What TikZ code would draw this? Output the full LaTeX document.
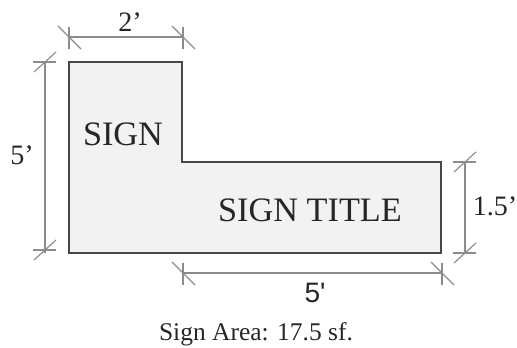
\documentclass[tikz,border=0pt]{standalone}
\usepackage{fontspec}
\setmainfont{Liberation Serif}
\newfontfamily\dimsans{Liberation Sans}
\usepackage{xcolor}

\definecolor{signfill}{HTML}{F2F2F2}
\definecolor{signedge}{HTML}{474747}
\definecolor{dimgray}{HTML}{8C8C8C}

\tikzset{
	sign/.style={draw=signedge, fill=signfill, line width=0.9pt},
	dimline/.style={draw=dimgray, line width=0.65pt},
	signtext/.style={font=\fontsize{19.5}{23}\selectfont, text=black!85},
	dimtext/.style={font=\fontsize{16}{19}\selectfont, text=black!85}
}

\begin{document}
\begin{tikzpicture}[x=0.02cm,y=-0.02cm]

\useasboundingbox (0,0) rectangle (517,348);

\def \htick {
	\draw[dimline] (\a,\b-10)--(\a,\b+12);
	\draw[dimline] (\a-11,\b-11)--(\a+12,\b+12);
}

\def \vtick {
	\draw[dimline] (\a-12,\b)--(\a+11,\b);
	\draw[dimline] (\a-11,\b+10)--(\a+11,\b-10);
}

% ------------------------------------------------------

\draw[sign] (69,62)--(182,62)--(182,162)--(441,162)--(441,253)--(69,253)--cycle;

\node[signtext] (sign) at (123,134) {SIGN};

\node[signtext] (title) at (310,210) {SIGN TITLE};

% top
\draw[dimline] (69,37)--(183,37);
\def \a {69}
\def \b {37}
\htick
\def \a {183}
\htick
\node[dimtext] (topdim) at (130,22) {2’};

% left
\draw[dimline] (45,62)--(45,253);
\def \a {45}
\def \b {62}
\vtick
\def \b {250}
\vtick
\node[dimtext] (leftdim) at (22,155) {5’};

% bottom
\draw[dimline] (183,273)--(442,273);
\def \a {183}
\def \b {273}
\htick
\def \a {442}
\htick
\node[dimtext, font=\dimsans\fontsize{16}{19}\selectfont] (bottomdim) at (315,293) {5'};

% right
\draw[dimline] (465,162)--(465,253);
\def \a {465}
\def \b {162}
\vtick
\def \b {253}
\vtick
\node[dimtext] (rightdim) at (495,206) {1.5’};

\node[font=\fontsize{14.5}{17}\selectfont, text=black!85] (area) at (256,334) {Sign Area: 17.5 sf.};

\end{tikzpicture}
\end{document}
